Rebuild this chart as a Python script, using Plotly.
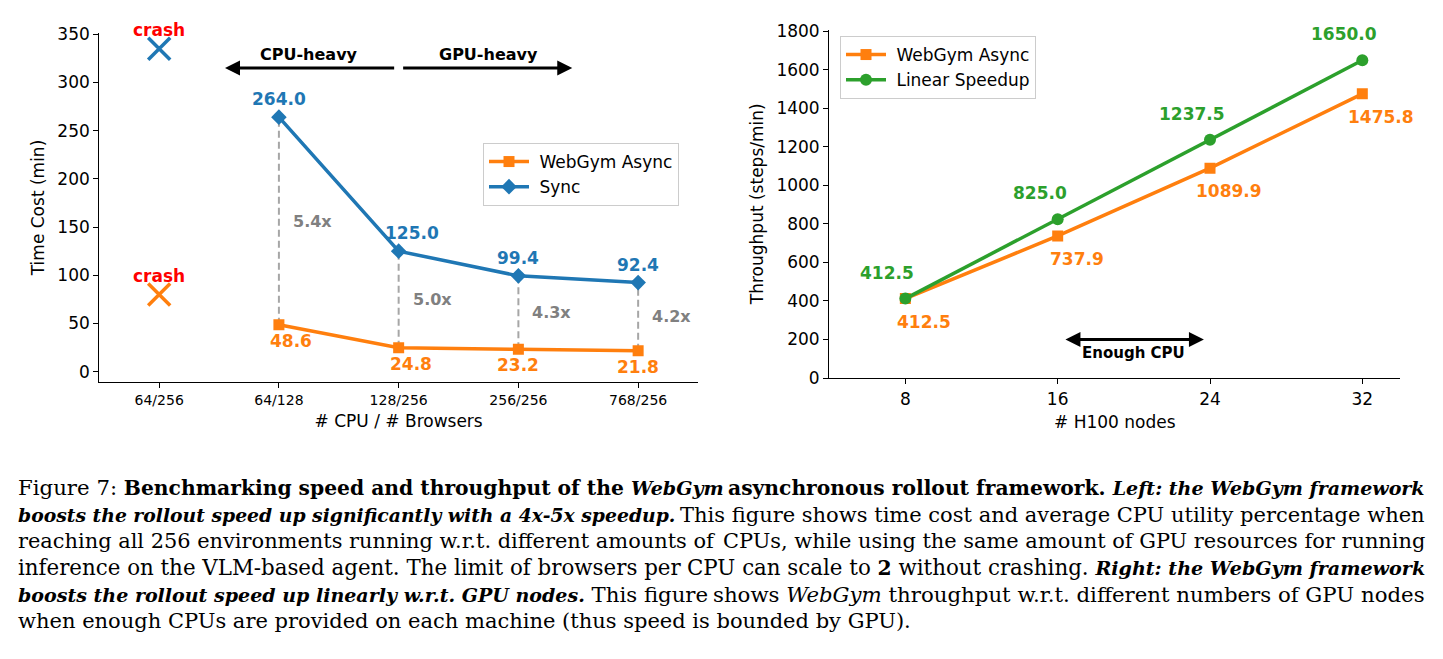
import plotly.graph_objects as go

W, H = 1443, 659

# ---------------- data: left chart ----------------
cpu_labels = ["64/256", "64/128", "128/256", "256/256", "768/256"]
cpu_pos = [0, 1, 2, 3, 4]
run_pos = [1, 2, 3, 4]
async_time = [48.6, 24.8, 23.2, 21.8]
sync_time = [264.0, 125.0, 99.4, 92.4]
crash_pos = [0]
crash_sync = [335]
crash_async = [80]
speedup_labels = ["5.4x", "5.0x", "4.3x", "4.2x"]
left_yticks = [0, 50, 100, 150, 200, 250, 300, 350]

# ---------------- data: right chart ----------------
h100_nodes = [8, 16, 24, 32]
async_tput = [412.5, 737.9, 1089.9, 1475.8]
linear_tput = [412.5, 825.0, 1237.5, 1650.0]
right_yticks = [0, 200, 400, 600, 800, 1000, 1200, 1400, 1600, 1800]

BLUE = "#1f77b4"
ORANGE = "#ff7f0e"
GREEN = "#2ca02c"
GRAY = "#808080"
FONT = "DejaVu Sans"
NB = "\u00a0"


def px_x(a, b):
    return [a / W, b / W]


def px_y(top, bottom):
    return [1 - bottom / H, 1 - top / H]


fig = go.Figure()

# dashed connectors
for p, a, s in zip(run_pos, async_time, sync_time):
    fig.add_trace(go.Scatter(x=[p, p], y=[a, s], mode="lines", xaxis="x", yaxis="y",
                             line=dict(color="rgba(128,128,128,0.7)", width=2, dash="7px,4px"),
                             showlegend=False, hoverinfo="skip"))

fig.add_trace(go.Scatter(x=run_pos, y=async_time, mode="lines+markers", name=NB + "WebGym Async",
                         xaxis="x", yaxis="y", legend="legend",
                         line=dict(color=ORANGE, width=3.5),
                         marker=dict(symbol="square", size=11, color=ORANGE)))
fig.add_trace(go.Scatter(x=run_pos, y=sync_time, mode="lines+markers", name=NB + "Sync",
                         xaxis="x", yaxis="y", legend="legend",
                         line=dict(color=BLUE, width=3.5),
                         marker=dict(symbol="diamond", size=12, color=BLUE)))
fig.add_trace(go.Scatter(x=crash_pos, y=crash_sync, mode="markers", xaxis="x", yaxis="y",
                         marker=dict(symbol="x-thin", size=22, line=dict(color=BLUE, width=3.5)),
                         showlegend=False))
fig.add_trace(go.Scatter(x=crash_pos, y=crash_async, mode="markers", xaxis="x", yaxis="y",
                         marker=dict(symbol="x-thin", size=22, line=dict(color=ORANGE, width=3.5)),
                         showlegend=False))

# right chart
fig.add_trace(go.Scatter(x=h100_nodes, y=async_tput, mode="lines+markers", name=NB + "WebGym Async",
                         xaxis="x2", yaxis="y2", legend="legend2",
                         line=dict(color=ORANGE, width=3.5),
                         marker=dict(symbol="square", size=11, color=ORANGE)))
fig.add_trace(go.Scatter(x=h100_nodes, y=linear_tput, mode="lines+markers", name=NB + "Linear Speedup",
                         xaxis="x2", yaxis="y2", legend="legend2",
                         line=dict(color=GREEN, width=3.5),
                         marker=dict(symbol="circle", size=12, color=GREEN)))

ann = []
lbl_font = lambda c, s=17: dict(family=FONT, size=s, color=c)

# left value labels
blue_dx = [0, 13, 0, 0]
orange_dx = [12, 12, 0, 0]
for p, v, dx in zip(run_pos, sync_time, blue_dx):
    ann.append(dict(x=p, y=v, xref="x", yref="y", text=f"<b>{v:.1f}</b>", showarrow=False,
                    xshift=dx, yshift=18, font=lbl_font(BLUE)))
for p, v, dx in zip(run_pos, async_time, orange_dx):
    ann.append(dict(x=p, y=v, xref="x", yref="y", text=f"<b>{v:.1f}</b>", showarrow=False,
                    xshift=dx, yshift=-16, font=lbl_font(ORANGE)))
for p, a, s, t in zip(run_pos, async_time, sync_time, speedup_labels):
    ann.append(dict(x=p, y=(a + s) / 2, xref="x", yref="y", text=f"<b>{t}</b>", showarrow=False,
                    xanchor="left", xshift=12, font=lbl_font(GRAY, 16)))
for v in crash_sync + crash_async:
    ann.append(dict(x=crash_pos[0], y=v, xref="x", yref="y", text="<b>crash</b>", showarrow=False,
                    yshift=19, font=lbl_font("#ff0000")))

# CPU-heavy / GPU-heavy arrows
ann.append(dict(x=0.55, y=315, ax=1.975, ay=315, xref="x", yref="y", axref="x", ayref="y",
                showarrow=True, arrowhead=2, arrowsize=1, arrowwidth=3, arrowcolor="black", text=""))
ann.append(dict(x=3.45, y=315, ax=2.025, ay=315, xref="x", yref="y", axref="x", ayref="y",
                showarrow=True, arrowhead=2, arrowsize=1, arrowwidth=3, arrowcolor="black", text=""))
ann.append(dict(x=1.25, y=329, xref="x", yref="y", text="<b>CPU-heavy</b>", showarrow=False,
                font=lbl_font("black", 16)))
ann.append(dict(x=2.75, y=329, xref="x", yref="y", text="<b>GPU-heavy</b>", showarrow=False,
                font=lbl_font("black", 16)))

# right value labels
for n, v in zip(h100_nodes, linear_tput):
    ann.append(dict(x=n, y=v, xref="x2", yref="y2", text=f"<b>{v:.1f}</b>", showarrow=False,
                    xshift=-18, yshift=26, font=lbl_font(GREEN)))
for n, v in zip(h100_nodes, async_tput):
    ann.append(dict(x=n, y=v, xref="x2", yref="y2", text=f"<b>{v:.1f}</b>", showarrow=False,
                    xshift=19, yshift=-23, font=lbl_font(ORANGE)))

# Enough CPU double arrow
ann.append(dict(x=23.68, y=200, ax=16.33, ay=200, xref="x2", yref="y2", axref="x2", ayref="y2",
                showarrow=True, arrowhead=2, startarrowhead=2, arrowside="end+start",
                arrowsize=1, startarrowsize=1, arrowwidth=3, arrowcolor="black", text=""))
ann.append(dict(x=20, y=130, xref="x2", yref="y2", text="<b>Enough CPU</b>", showarrow=False,
                font=lbl_font("black", 15)))


# caption: two halves per line, anchored to both margins (justified look)
def caption_line(parts, f):
    out = []
    for kind, t in parts:
        if kind == "r":
            out.append(f'<span style="font-size:{21 * f:.2f}px">{t}</span>')
        elif kind == "i":
            out.append(f'<span style="font-size:{21 * f:.2f}px"><i>{t}</i></span>')
        elif kind == "b":
            out.append(f'<span style="font-size:{20 * f:.2f}px"><b>{t}</b></span>')
        else:
            out.append(f'<span style="font-size:{18.8 * f:.2f}px"><b><i>{t}</i></b></span>')
    return "".join(out)


cap_lines = [
    ([("r", "Figure 7: "), ("b", "Benchmarking speed and throughput of the "), ("bi", "WebGym")],
     [("b", "asynchronous rollout framework. "), ("bi", "Left: the WebGym framework")], 1.0135),
    ([("bi", "boosts the rollout speed up significantly with a 4x-5x speedup.")],
     [("r", "This figure shows time cost and average CPU utility percentage when")], 1.0),
    ([("r", "reaching all 256 environments running w.r.t. different amounts of")],
     [("r", "CPUs, while using the same amount of GPU resources for running")], 0.9957),
    ([("r", "inference on the VLM-based agent. The limit of browsers per")],
     [("r", "CPU can scale to "), ("b", "2"), ("r", " without crashing. "), ("bi", "Right: the WebGym framework")],
     1.017),
    ([("bi", "boosts the rollout speed up linearly w.r.t. GPU nodes."), ("r", " This figure")],
     [("r", "shows "), ("i", "WebGym"), ("r", " throughput w.r.t. different numbers of GPU nodes")], 1.0135),
    ([("r", "when enough CPUs are provided on each machine (thus speed is bounded by GPU).")], None, 1.0),
]
CAP_FONT = dict(family="DejaVu Serif", size=21, color="black")
cap_y = [488, 514.6, 541.2, 567.8, 594.4, 621]
for (lp, rp, f), yc in zip(cap_lines, cap_y):
    ann.append(dict(x=16 / W, y=1 - yc / H, xref="paper", yref="paper", text=caption_line(lp, f),
                    showarrow=False, xanchor="left", yanchor="middle", font=CAP_FONT))
    if rp:
        ann.append(dict(x=1427 / W, y=1 - yc / H, xref="paper", yref="paper", text=caption_line(rp, f),
                        showarrow=False, xanchor="right", yanchor="middle", font=CAP_FONT))

axis_common = dict(showline=True, linecolor="black", linewidth=1.2, ticks="outside", ticklen=5,
                   tickwidth=1.2, tickcolor="black", showgrid=False, zeroline=False, mirror=False,
                   automargin=False)

leg_common = dict(xanchor="left", yanchor="top", bgcolor="white", bordercolor="#cccccc",
                  borderwidth=1, font=dict(size=17), itemwidth=40, tracegroupgap=0)

fig.update_layout(
    width=W, height=H, margin=dict(l=0, r=0, t=0, b=0, autoexpand=False),
    paper_bgcolor="white", plot_bgcolor="white",
    font=dict(family=FONT, size=17, color="black"),
    xaxis=dict(domain=px_x(99.3, 698), range=[-0.5, 4.5], tickvals=cpu_pos, ticktext=cpu_labels,
               tickfont=dict(size=14), title=dict(text="# CPU / # Browsers", font=dict(size=17), standoff=8),
               anchor="y", **axis_common),
    yaxis=dict(domain=px_y(33.3, 381.7), range=[-10.4, 351], tickvals=left_yticks,
               tickfont=dict(size=17), title=dict(text="Time Cost (min)", font=dict(size=17), standoff=8),
               anchor="x", **axis_common),
    xaxis2=dict(domain=px_x(829.2, 1400.4), range=[4, 34], tickvals=h100_nodes,
                tickfont=dict(size=17), title=dict(text="# H100 nodes", font=dict(size=17), standoff=8),
                anchor="y2", **axis_common),
    yaxis2=dict(domain=px_y(29.5, 378), range=[0, 1810], tickvals=right_yticks,
                tickfont=dict(size=17), title=dict(text="Throughput (steps/min)", font=dict(size=17), standoff=8),
                anchor="x2", **axis_common),
    legend=dict(x=483 / W, y=1 - 143 / H, **leg_common),
    legend2=dict(x=840 / W, y=1 - 36 / H, **leg_common),
    annotations=ann,
)

fig.write_html("out.html")
